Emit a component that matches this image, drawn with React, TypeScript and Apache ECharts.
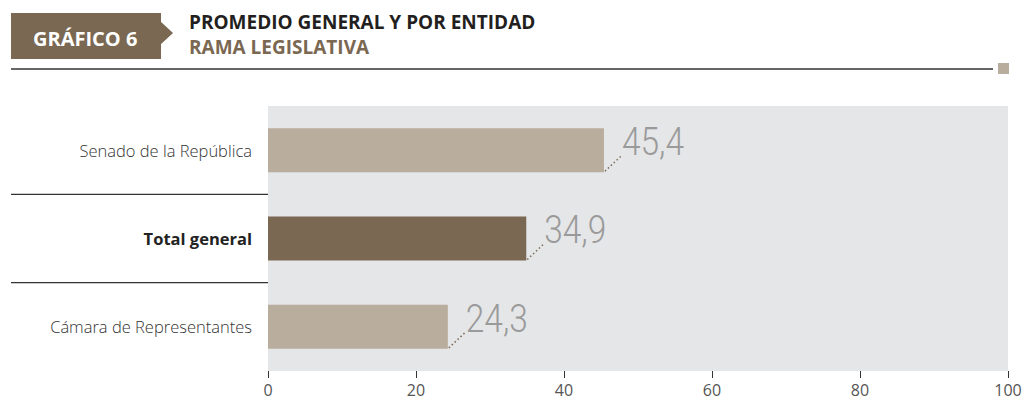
import React, { useEffect, useRef } from "react";
import * as echarts from "echarts";

const categories = ["Senado de la República", "Total general", "Cámara de Representantes"];
const values = [45.4, 34.9, 24.3];
const highlighted = ["Total general"];
const xTicks = [0, 20, 40, 60, 80, 100];

const chartTitle = "PROMEDIO GENERAL Y POR ENTIDAD";
const chartSubtitle = "RAMA LEGISLATIVA";
const badge = "GRÁFICO 6";

const LIGHT = "#b9ad9e";
const DARK = "#7a6852";
const BG = "#e5e6e8";

const GRID_LEFT = 268;
const GRID_TOP = 106;
const GRID_W = 740;
const GRID_H = 265;

export default function App() {
  const ref = useRef<HTMLDivElement>(null);
  useEffect(() => {
    document.body.style.margin = "0";
    const chart = echarts.init(ref.current!, null, { renderer: "svg" });
    const band = GRID_H / categories.length;
    const separators = categories.slice(1).map((_, i) => ({
      type: "line",
      shape: { x1: 11, y1: GRID_TOP + band * (i + 1), x2: GRID_LEFT, y2: GRID_TOP + band * (i + 1) },
      style: { stroke: "#333", lineWidth: 1.3 },
    }));
    chart.setOption({
      animation: false,
      grid: {
        left: GRID_LEFT,
        top: GRID_TOP,
        width: GRID_W,
        height: GRID_H,
        show: true,
        backgroundColor: BG,
        borderWidth: 0,
      },
      xAxis: {
        type: "value",
        min: xTicks[0],
        max: xTicks[xTicks.length - 1],
        interval: 20,
        axisLine: { show: false },
        axisTick: { show: true, length: 7, lineStyle: { color: "#333", width: 1 } },
        splitLine: { show: false },
        axisLabel: { color: "#555", fontSize: 16, fontFamily: "Open Sans", margin: 11 },
      },
      yAxis: {
        type: "category",
        inverse: true,
        data: categories,
        axisLine: { show: false },
        axisTick: { show: false },
        axisLabel: {
          margin: 16,
          formatter: (v: string) => (highlighted.includes(v) ? `{b|${v}}` : `{n|${v}}`),
          rich: {
            n: { fontFamily: "Open Sans", fontSize: 16.5, fontWeight: 300, color: "#333" },
            b: { fontFamily: "Open Sans", fontSize: 16.5, fontWeight: "bold", color: "#222" },
          },
        },
      },
      series: [
        {
          type: "bar",
          barWidth: 44,
          data: values.map((v, i) => ({
            value: v,
            itemStyle: { color: highlighted.includes(categories[i]) ? DARK : LIGHT },
          })),
        },
        {
          type: "custom",
          data: values.map((v, i) => [v, i]),
          renderItem: (params: any, api: any) => {
            const p = api.coord([api.value(0), api.value(1)]);
            const txt = String(api.value(0)).replace(".", ",");
            return {
              type: "group",
              children: [
                {
                  type: "line",
                  shape: { x1: p[0] + 1, y1: p[1] + 21, x2: p[0] + 17, y2: p[1] + 6 },
                  style: { stroke: DARK, lineWidth: 1.5, lineDash: [1.5, 2.5] },
                },
                {
                  type: "text",
                  x: p[0] + 18,
                  y: p[1] - 8,
                  scaleX: 0.88,
                  style: {
                    text: txt,
                    fill: "#9a9a9a",
                    fontFamily: "Roboto",
                    fontWeight: 300,
                    fontSize: 38,
                    verticalAlign: "middle",
                    align: "left",
                  },
                },
              ],
            };
          },
        },
      ],
      graphic: [
        { type: "rect", shape: { x: 11, y: 13, width: 150, height: 46 }, style: { fill: DARK } },
        {
          type: "polygon",
          shape: { points: [[160, 21], [173, 33], [160, 45]] },
          style: { fill: DARK },
        },
        {
          type: "text",
          x: 33,
          y: 38,
          style: {
            text: badge,
            fill: "#fff",
            fontFamily: "Open Sans",
            fontWeight: "bold",
            fontSize: 20,
            verticalAlign: "middle",
          },
        },
        {
          type: "text",
          x: 189,
          y: 22,
          style: {
            text: chartTitle,
            fill: "#231f20",
            fontFamily: "Open Sans",
            fontWeight: "bold",
            fontSize: 19,
            lineHeight: 19,
            verticalAlign: "middle",
          },
        },
        {
          type: "text",
          x: 189,
          y: 47,
          style: {
            text: chartSubtitle,
            fill: DARK,
            fontFamily: "Open Sans",
            fontWeight: "bold",
            fontSize: 19,
            lineHeight: 19,
            verticalAlign: "middle",
          },
        },
        { type: "line", shape: { x1: 11, y1: 69, x2: 993, y2: 69 }, style: { stroke: "#333", lineWidth: 1.5 } },
        { type: "rect", shape: { x: 998, y: 63, width: 11, height: 11 }, style: { fill: LIGHT } },
        ...separators,
      ],
    });
    return () => chart.dispose();
  }, []);
  return <div ref={ref} style={{ width: 1029, height: 417 }} />;
}
